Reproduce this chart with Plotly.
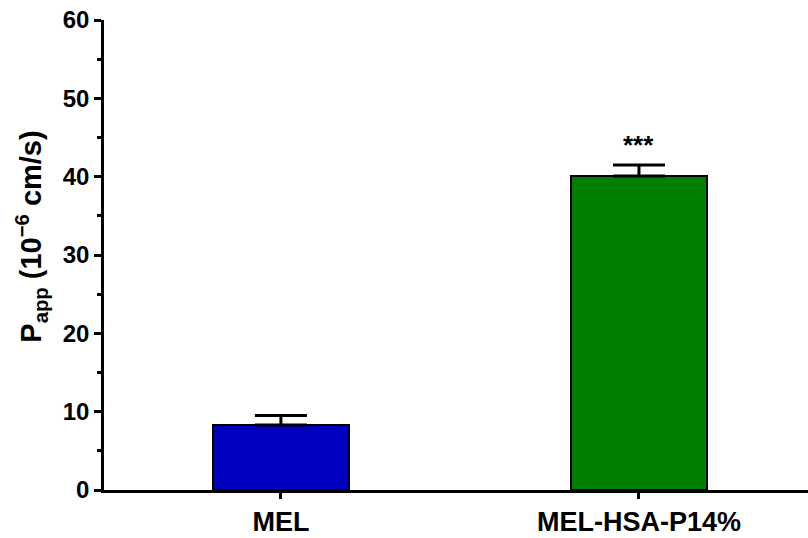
import plotly.graph_objects as go

# Apparent permeability data
categories = ["MEL", "MEL-HSA-P14%"]
papp_mean = [8.3, 40.1]
papp_sem = [1.2, 1.4]
bar_colors = ["#0000BE", "#007F00"]
significance = ["", "***"]

FONT = "Liberation Sans, Arial"

fig = go.Figure()
fig.add_trace(go.Bar(
    x=categories,
    y=papp_mean,
    width=0.38,
    marker=dict(color=bar_colors, line=dict(color="black", width=2)),
    error_y=dict(type="data", array=papp_sem, arrayminus=[0, 0],
                 symmetric=False, color="black", thickness=3, width=26),
    showlegend=False,
))

for cat, m, s, lab in zip(categories, papp_mean, papp_sem, significance):
    if lab:
        fig.add_annotation(x=cat, y=m + s, text="<b>" + lab + "</b>",
                           showarrow=False, yanchor="middle", yshift=20,
                           font=dict(size=26, color="black", family=FONT))

# y-axis title, placed as a rotated annotation left of the axis
fig.add_annotation(
    text="<b>P<sub>app</sub> (10<sup>−6</sup> cm/s)</b>",
    xref="paper", yref="paper", x=-0.103, y=0.54,
    xanchor="center", yanchor="middle", textangle=-90, showarrow=False,
    font=dict(size=29, family=FONT, color="black"),
)

fig.update_layout(
    width=808, height=538,
    margin=dict(l=104, r=0, t=20, b=48),
    plot_bgcolor="white", paper_bgcolor="white",
    font=dict(family=FONT, color="black"),
    bargap=0,
)
fig.update_xaxes(
    range=[-0.494, 1.472],
    showline=True, linecolor="black", linewidth=2.5,
    ticks="outside", ticklen=6, tickwidth=2.5, tickcolor="black",
    tickfont=dict(size=27, family=FONT, color="black"),
    tickprefix="<b>", ticksuffix="</b>",
    showgrid=False, zeroline=False,
)
fig.update_yaxes(
    range=[0, 60], tick0=0, dtick=10,
    showline=True, linecolor="black", linewidth=2.5,
    ticks="outside", ticklen=7, tickwidth=2.5, tickcolor="black",
    minor=dict(dtick=5, ticks="outside", ticklen=4, tickwidth=2.5, tickcolor="black"),
    tickfont=dict(size=24, family=FONT, color="black"),
    tickprefix="<b>", ticksuffix="</b>",
    showgrid=False, zeroline=False,
)

fig.write_html("out.html")
